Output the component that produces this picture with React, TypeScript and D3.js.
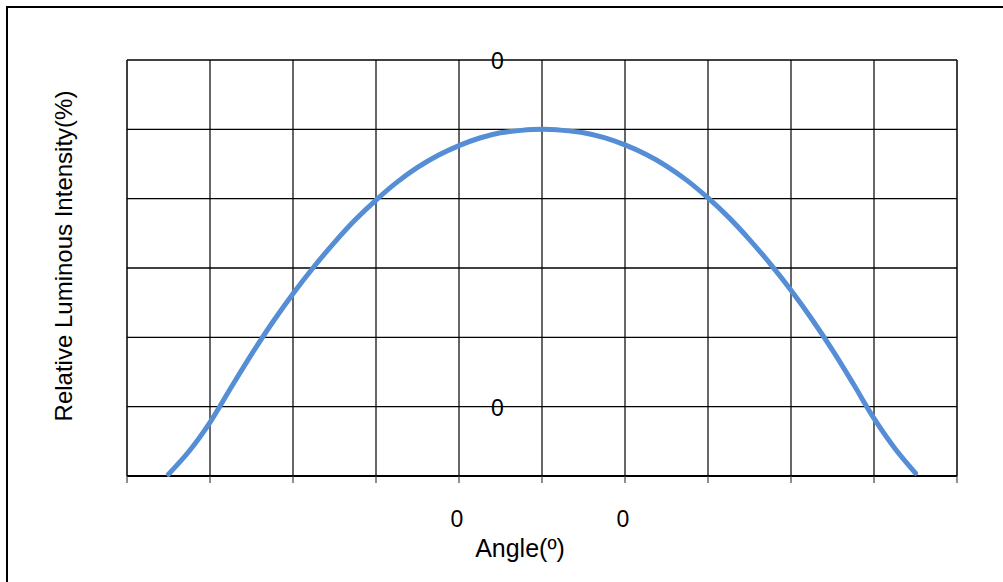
import { useEffect, useRef } from 'react';
import * as d3 from 'd3';

// Relative luminous intensity vs. viewing angle
const angles = [
    -90, -85, -80, -75, -70, -65, -60, -55, -50, -45, -40, -35, -30, -25, -20, -15, -10, -5,
    0, 5, 10, 15, 20, 25, 30, 35, 40, 45, 50, 55, 60, 65, 70, 75, 80, 85, 90,
];
const intensity = [
    0.5, 7.2, 15.5, 25.4, 35.1, 44.2, 52.6, 60.3, 67.4, 73.9, 79.6, 84.7, 89, 92.5, 95.3, 97.5, 99, 99.7,
    100, 99.7, 99, 97.6, 95.5, 92.8, 89.4, 85.2, 80.2, 74.6, 68.2, 61.2, 53.6, 45.3, 36.3, 26.6, 16.6, 8, 0.8,
];

const xTicks = [-100, -80, -60, -40, -20, 0, 20, 40, 60, 80, 100];
const yTicks = [0, 20, 40, 60, 80, 100, 120];

// the tick labels that survive in the picture
const xTickLabels = [
    { value: -20, text: '0' },
    { value: 20, text: '0' },
];
const yTickLabels = [
    { value: 120, text: '0' },
    { value: 20, text: '0' },
];

const W = 1003;
const H = 582;
const FONT = "'Liberation Sans', Arial, sans-serif";

export default function App() {
    const svgRef = useRef<SVGSVGElement>(null);

    useEffect(() => {
        if (!svgRef.current) return;
        const svg = d3.select(svgRef.current);
        svg.selectAll('*').remove();

        const x = d3.scaleLinear().domain([-100, 100]).range([127, 957]);
        const y = d3.scaleLinear().domain([0, 120]).range([476, 60]);

        svg.append('rect').attr('width', W).attr('height', H).attr('fill', '#fff');

        // outer frame (right/bottom edges fall outside the picture)
        svg.append('rect')
            .attr('x', 7).attr('y', 7)
            .attr('width', W + 20).attr('height', H + 20)
            .attr('fill', 'none')
            .attr('stroke', '#000')
            .attr('stroke-width', 2);

        // grid
        const g = svg.append('g');
        g.selectAll('line.vgrid')
            .data(xTicks)
            .join('line')
            .attr('class', 'vgrid')
            .attr('x1', d => x(d)).attr('x2', d => x(d))
            .attr('y1', y(120)).attr('y2', y(0))
            .attr('stroke', '#000')
            .attr('stroke-width', d => (d === -100 || d === 100 ? 1.5 : 1.2));

        g.selectAll('line.hgrid')
            .data(yTicks)
            .join('line')
            .attr('class', 'hgrid')
            .attr('x1', x(-100)).attr('x2', x(100))
            .attr('y1', d => y(d)).attr('y2', d => y(d))
            .attr('stroke', '#000')
            .attr('stroke-width', d => (d === 0 ? 2 : 1.3));

        // tick marks below the x axis
        g.selectAll('line.tick')
            .data(xTicks)
            .join('line')
            .attr('class', 'tick')
            .attr('x1', d => x(d)).attr('x2', d => x(d))
            .attr('y1', y(0)).attr('y2', y(0) + 7)
            .attr('stroke', '#444')
            .attr('stroke-width', 1.2);

        // curve
        const line = d3.line<number>()
            .x((_, i) => x(angles[i]))
            .y(d => y(d))
            .curve(d3.curveCatmullRom.alpha(0.5));

        svg.append('path')
            .datum(intensity)
            .attr('d', line)
            .attr('fill', 'none')
            .attr('stroke', '#558ED5')
            .attr('stroke-width', 5)
            .attr('stroke-linecap', 'round')
            .attr('stroke-linejoin', 'round');

        // tick labels
        svg.selectAll('text.xlab')
            .data(xTickLabels)
            .join('text')
            .attr('class', 'xlab')
            .attr('x', d => x(d.value) - 2)
            .attr('y', 527)
            .attr('text-anchor', 'middle')
            .style('font-family', FONT)
            .style('font-size', '23px')
            .text(d => d.text);

        svg.selectAll('text.ylab')
            .data(yTickLabels)
            .join('text')
            .attr('class', 'ylab')
            .attr('x', 497.5)
            .attr('y', d => y(d.value) + 9)
            .attr('text-anchor', 'middle')
            .style('font-family', FONT)
            .style('font-size', '23px')
            .text(d => d.text);

        // axis titles
        svg.append('text')
            .attr('x', 520).attr('y', 557)
            .attr('text-anchor', 'middle')
            .style('font-family', FONT)
            .style('font-size', '25px')
            .text('Angle(º)');

        svg.append('text')
            .attr('transform', 'rotate(-90)')
            .attr('x', -256).attr('y', 72)
            .attr('text-anchor', 'middle')
            .style('font-family', FONT)
            .style('font-size', '24px')
            .text('Relative Luminous Intensity(%)');
    }, []);

    return (
        <div style={{ position: 'absolute', left: 0, top: 0 }}>
            <svg ref={svgRef} width={W} height={H} style={{ display: 'block' }} />
        </div>
    );
}
